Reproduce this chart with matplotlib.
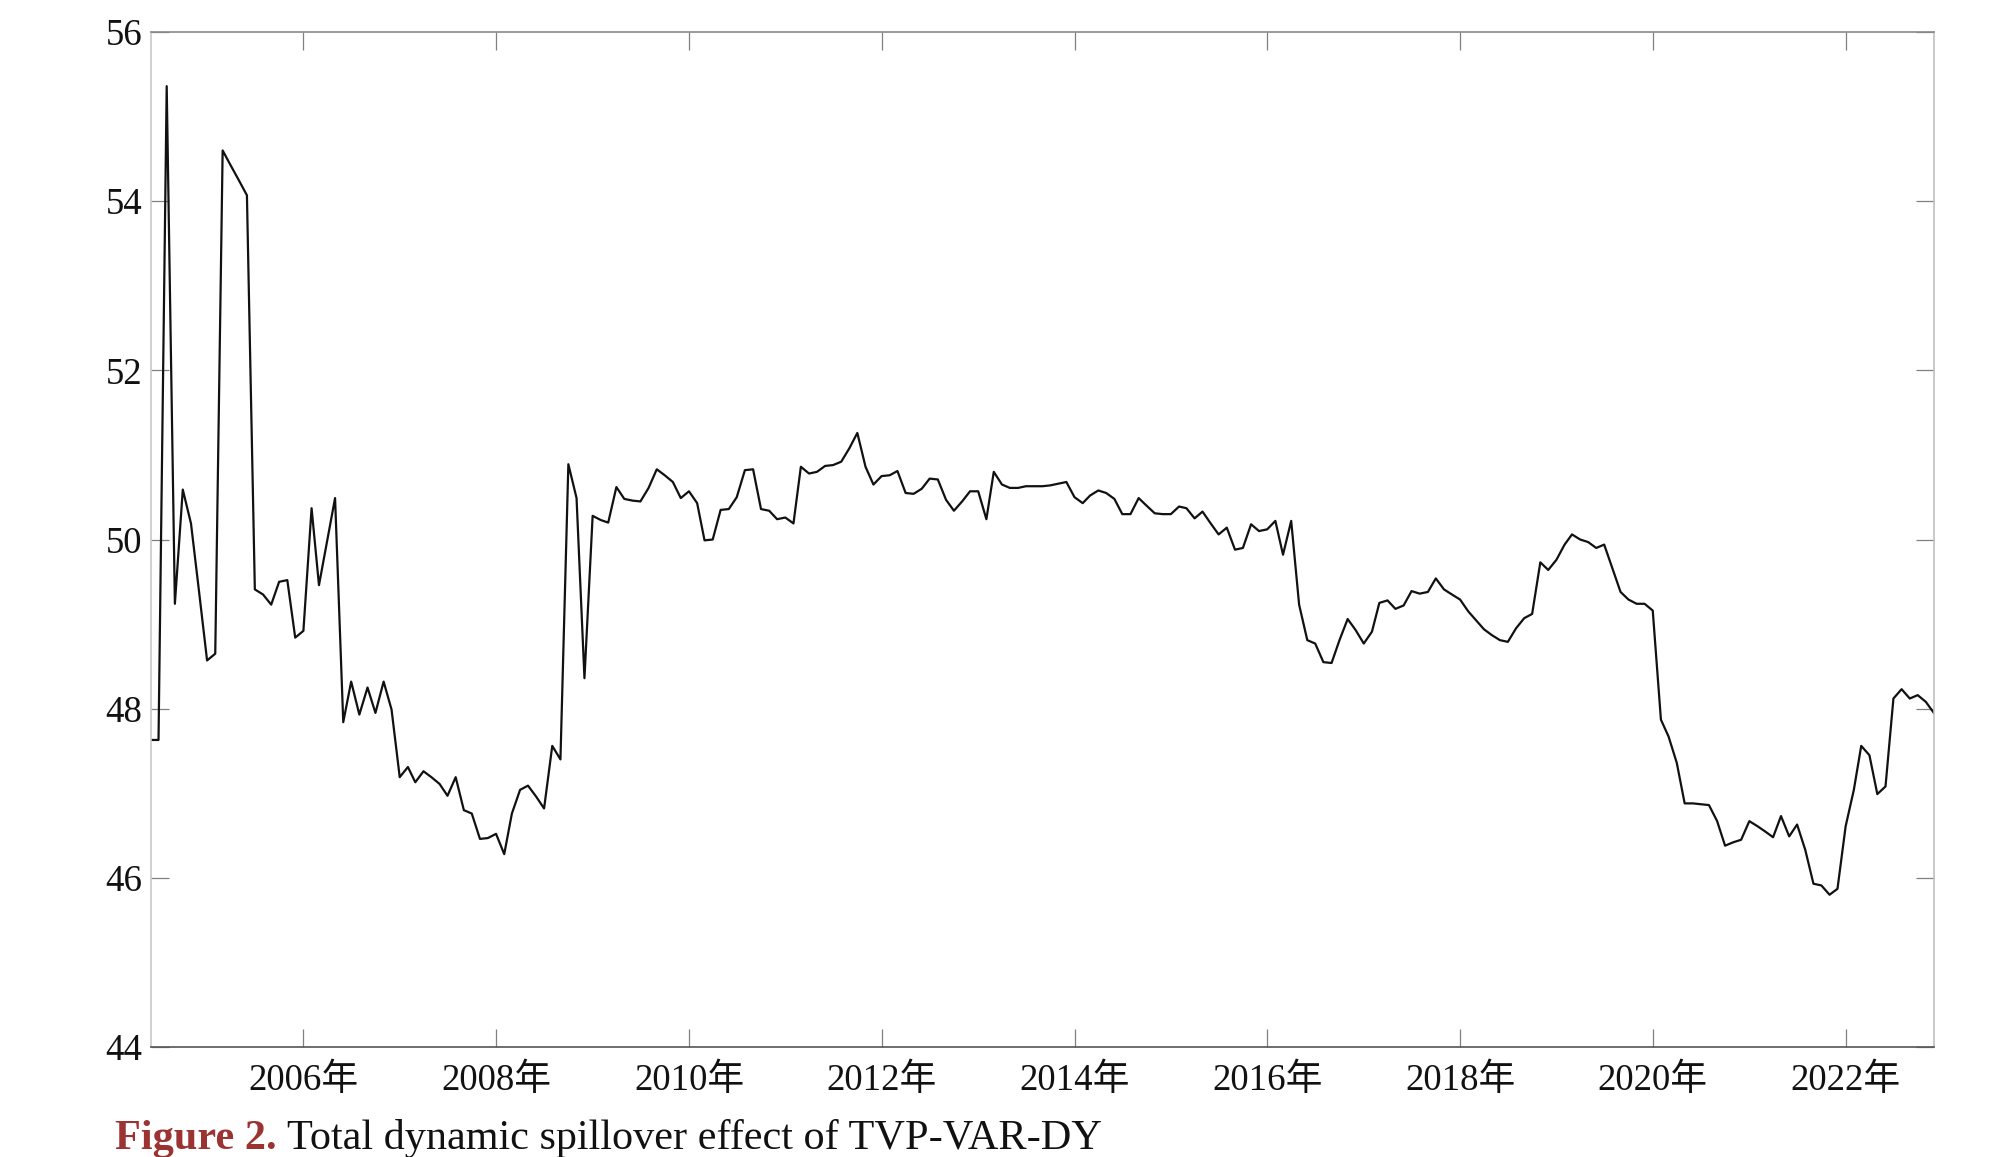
import numpy as np
import pandas as pd
import matplotlib
matplotlib.use("Agg")
import matplotlib.pyplot as plt
import matplotlib.dates as mdates

plt.rcParams['font.family'] = ['Liberation Serif', 'Noto Sans CJK SC']

# monthly total spillover index, June 2004 - December 2022
start_month = "2004-06-01"
spillover = [
    47.63, 47.63, 55.36, 49.24, 50.59, 50.19, 49.40, 48.57, 48.65, 54.60,
    54.42, 54.25, 54.07, 49.41, 49.35, 49.23, 49.50, 49.52, 48.84, 48.92,
    50.37, 49.46, 49.98, 50.49, 47.84, 48.32, 47.93, 48.25, 47.95, 48.32,
    47.99, 47.19, 47.31, 47.13, 47.26, 47.19, 47.11, 46.97, 47.19, 46.80,
    46.76, 46.46, 46.47, 46.52, 46.28, 46.76, 47.04, 47.09, 46.96, 46.82,
    47.56, 47.40, 50.89, 50.49, 48.36, 50.28, 50.23, 50.20, 50.62, 50.48,
    50.46, 50.45, 50.61, 50.83, 50.76, 50.68, 50.49, 50.57, 50.43, 49.99,
    50.00, 50.35, 50.36, 50.50, 50.82, 50.83, 50.36, 50.34, 50.24, 50.26,
    50.19, 50.86, 50.78, 50.80, 50.87, 50.88, 50.92, 51.08, 51.26, 50.86,
    50.65, 50.75, 50.76, 50.81, 50.55, 50.54, 50.60, 50.72, 50.71, 50.47,
    50.34, 50.45, 50.57, 50.57, 50.24, 50.80, 50.65, 50.61, 50.61, 50.63,
    50.63, 50.63, 50.64, 50.66, 50.68, 50.50, 50.43, 50.52, 50.58, 50.55,
    50.48, 50.30, 50.30, 50.49, 50.40, 50.31, 50.30, 50.30, 50.39, 50.37,
    50.25, 50.33, 50.19, 50.06, 50.14, 49.88, 49.90, 50.18, 50.10, 50.12,
    50.22, 49.82, 50.22, 49.23, 48.81, 48.77, 48.55, 48.54, 48.81, 49.06,
    48.93, 48.77, 48.91, 49.25, 49.28, 49.18, 49.22, 49.39, 49.36, 49.38,
    49.54, 49.41, 49.35, 49.29, 49.15, 49.05, 48.94, 48.87, 48.81, 48.79,
    48.95, 49.07, 49.12, 49.73, 49.64, 49.76, 49.94, 50.06, 50.00, 49.97,
    49.90, 49.94, 49.66, 49.38, 49.29, 49.24, 49.24, 49.16, 47.87, 47.67,
    47.36, 46.88, 46.88, 46.87, 46.86, 46.67, 46.38, 46.42, 46.45, 46.67,
    46.61, 46.55, 46.48, 46.73, 46.49, 46.63, 46.33, 45.93, 45.91, 45.80,
    45.87, 46.61, 47.04, 47.56, 47.45, 46.99, 47.08, 48.12, 48.23, 48.12,
    48.16, 48.08, 47.95,
]
y_ticks = [44, 46, 48, 50, 52, 54, 56]
caption_head = "Figure 2."
caption_body = "Total dynamic spillover effect of TVP-VAR-DY"

dates = pd.date_range(start_month, periods=len(spillover), freq="MS")

fig = plt.figure(figsize=(20, 11.57), dpi=100)
ax = fig.add_axes([0.0753, 0.0951, 0.8916, 0.8772])

ax.plot(dates, spillover, color="#111111", lw=1.6)

ax.set_xlim(dates[0], dates[-1])
ax.set_ylim(44, 56)
ax.set_yticks(y_ticks)
ax.xaxis.set_major_locator(mdates.YearLocator(2))
ax.xaxis.set_major_formatter(mdates.DateFormatter("%Y年"))

ax.tick_params(axis="both", direction="in", length=13, width=0.9,
               color="#808080", labelsize=26.5, labelcolor="#111111")
ax.tick_params(axis="x", top=True, pad=12)
ax.tick_params(axis="y", right=True, pad=6)

ax.spines["left"].set_color("#c8c8c8")
ax.spines["right"].set_color("#c0c0c0")
ax.spines["top"].set_color("#8a8a8a")
ax.spines["bottom"].set_color("#555555")
for s in ax.spines.values():
    s.set_linewidth(1.2)

fig.text(0.0575, 0.007, caption_head, color="#9b3333", fontsize=30.4,
         fontweight="bold", va="baseline", ha="left")
fig.text(0.1435, 0.007, caption_body, color="#111111", fontsize=30.4,
         va="baseline", ha="left")

fig.savefig("out.png", dpi=100, facecolor="white")
